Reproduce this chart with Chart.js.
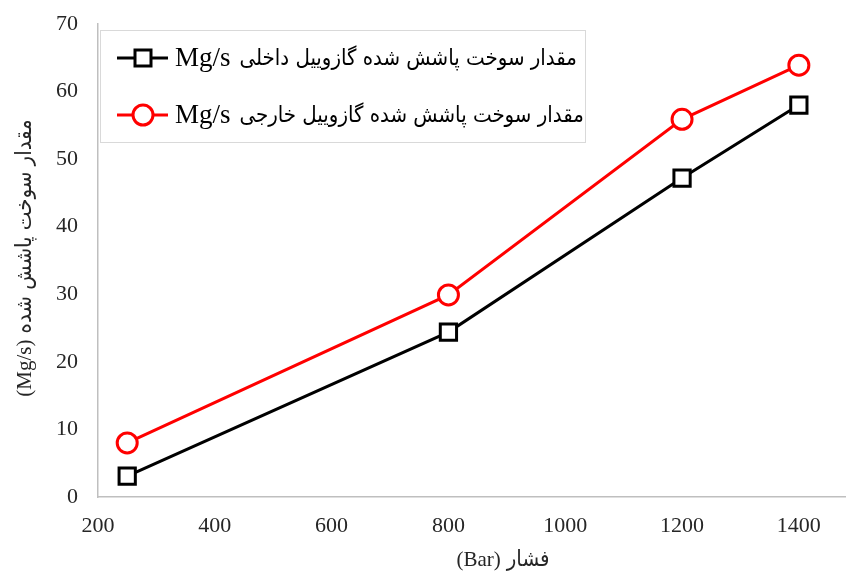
<!DOCTYPE html>
<html>
<head>
<meta charset="utf-8">
<script src="https://cdn.jsdelivr.net/npm/chart.js@4/dist/chart.umd.min.js"></script>
<style>
  html, body { margin: 0; padding: 0; background: #ffffff; }
  #wrap { width: 846px; height: 574px; }
</style>
</head>
<body>
<div id="wrap"><canvas id="c" width="846" height="574"></canvas></div>
<script>
// Injection pressure (Bar) and sprayed diesel fuel rate (Mg/s)
const pressures = [250, 800, 1200, 1400];
const innerFuel = [3.1, 24.4, 47.2, 58.0];
const outerFuel = [8.0, 29.9, 55.9, 63.9];
const xTickValues = [200, 400, 600, 800, 1000, 1200, 1400];
const yTickValues = [0, 10, 20, 30, 40, 50, 60, 70];
const seriesUnit = 'Mg/s';
const seriesNames = [
  'مقدار سوخت پاشش شده گازوییل داخلی',
  'مقدار سوخت پاشش شده گازوییل خارجی'
];
const xTitleUnit = '(Bar)';
const xTitleText = 'فشار';
const yTitleUnit = '(Mg/s)';
const yTitleText = 'مقدار سوخت پاشش شده';

const serifFamily = '"Liberation Serif", "DejaVu Serif", serif';
const arabicFamily = '"DejaVu Sans Condensed", "DejaVu Sans", sans-serif';
const tickFont = { family: serifFamily, size: 22 };

// Draws a Latin unit followed by Arabic text, left to right, starting at x
function drawMixed(ctx, x, y, unit, unitFont, text, textFont, gap) {
  ctx.font = unitFont;
  ctx.fillText(unit, x, y);
  const w = ctx.measureText(unit).width;
  ctx.font = textFont;
  ctx.fillText(text, x + w + gap, y);
}
function mixedWidth(ctx, unit, unitFont, text, textFont, gap) {
  ctx.font = unitFont;
  const a = ctx.measureText(unit).width;
  ctx.font = textFont;
  return a + gap + ctx.measureText(text).width;
}

// Let the x axis run to the right edge of the canvas (no room kept for the last label)
const fullWidthX = {
  id: 'fullWidthX',
  afterLayout(chart) {
    const xs = chart.scales.x;
    const right = chart.width - 1;
    xs.right = right;
    xs.width = right - xs.left;
    chart.chartArea.right = right;
    chart.chartArea.width = right - chart.chartArea.left;
    xs.configure();
    xs._labelItems = null;
    xs._gridLineItems = null;
  }
};

// Boxed legend inside the plot area plus the two axis titles
const annotations = {
  id: 'annotations',
  afterDraw(chart) {
    const ctx = chart.ctx;
    const bx = 100, by = 30, bw = 485, bh = 112;
    ctx.save();
    ctx.fillStyle = '#ffffff';
    ctx.fillRect(bx, by, bw, bh);
    ctx.strokeStyle = '#d9d9d9';
    ctx.lineWidth = 1;
    ctx.strokeRect(bx + 0.5, by + 0.5, bw, bh);
    const rows = [58, 115];
    chart.data.datasets.forEach((ds, i) => {
      const y = rows[i];
      ctx.strokeStyle = ds.borderColor;
      ctx.lineWidth = 3;
      ctx.beginPath();
      ctx.moveTo(117, y);
      ctx.lineTo(168, y);
      ctx.stroke();
      ctx.fillStyle = '#ffffff';
      ctx.beginPath();
      if (ds.pointStyle === 'rect') {
        ctx.rect(143 - 8, y - 8, 16, 16);
      } else {
        ctx.arc(143, y, 10, 0, Math.PI * 2);
      }
      ctx.fill();
      ctx.stroke();
      ctx.fillStyle = '#000000';
      ctx.textBaseline = 'middle';
      ctx.textAlign = 'left';
      drawMixed(ctx, 175, y + 1, seriesUnit, '27px ' + serifFamily,
        seriesNames[i], '22px ' + arabicFamily, 9);
    });

    // axis titles
    ctx.fillStyle = '#262626';
    ctx.textBaseline = 'middle';
    ctx.textAlign = 'left';
    const uF = '21px ' + serifFamily;
    const aF = '22px ' + arabicFamily;
    let w = mixedWidth(ctx, xTitleUnit, uF, xTitleText, aF, 6);
    drawMixed(ctx, 503 - w / 2, 560, xTitleUnit, uF, xTitleText, aF, 6);

    ctx.translate(25, 258);
    ctx.rotate(-Math.PI / 2);
    w = mixedWidth(ctx, yTitleUnit, uF, yTitleText, aF, 6);
    drawMixed(ctx, -w / 2, 0, yTitleUnit, uF, yTitleText, aF, 6);
    ctx.restore();
  }
};

new Chart(document.getElementById('c'), {
  type: 'line',
  data: {
    datasets: [
      {
        label: seriesUnit + ' ' + seriesNames[0],
        data: pressures.map((p, i) => ({ x: p, y: innerFuel[i] })),
        borderColor: '#000000',
        backgroundColor: '#ffffff',
        borderWidth: 3,
        pointStyle: 'rect',
        pointRadius: 11.5,
        pointBorderWidth: 3,
        pointBackgroundColor: '#ffffff',
        pointBorderColor: '#000000'
      },
      {
        label: seriesUnit + ' ' + seriesNames[1],
        data: pressures.map((p, i) => ({ x: p, y: outerFuel[i] })),
        borderColor: '#ff0000',
        backgroundColor: '#ffffff',
        borderWidth: 3,
        pointStyle: 'circle',
        pointRadius: 10,
        pointBorderWidth: 3,
        pointBackgroundColor: '#ffffff',
        pointBorderColor: '#ff0000'
      }
    ]
  },
  options: {
    responsive: false,
    animation: false,
    layout: { padding: { top: 24, right: 1, left: 0, bottom: 0 } },
    plugins: { legend: { display: false }, tooltip: { enabled: false } },
    scales: {
      x: {
        type: 'linear',
        min: 200,
        max: 1479,
        afterBuildTicks(scale) {
          scale.ticks = xTickValues.map(v => ({ value: v }));
        },
        afterFit(scale) {
          scale.height = 77;
        },
        grid: { drawOnChartArea: false, drawTicks: false, color: 'rgba(0,0,0,0)' },
        border: { display: true, color: '#bfbfbf', width: 1.5 },
        ticks: {
          font: tickFont, color: '#262626', padding: 16, maxRotation: 0, autoSkip: false,
          callback: v => String(v)
        },
        title: { display: false }
      },
      y: {
        min: 0,
        max: 70,
        afterBuildTicks(scale) {
          scale.ticks = yTickValues.map(v => ({ value: v }));
        },
        afterFit(scale) {
          scale.width = 98;
          scale.paddingTop = 0;
          scale.paddingBottom = 0;
        },
        grid: { drawOnChartArea: false, drawTicks: false, color: 'rgba(0,0,0,0)' },
        border: { display: true, color: '#bfbfbf', width: 1.5 },
        ticks: { font: tickFont, color: '#262626', padding: 20, callback: v => String(v) },
        title: { display: false }
      }
    }
  },
  plugins: [fullWidthX, annotations]
});
</script>
</body>
</html>
